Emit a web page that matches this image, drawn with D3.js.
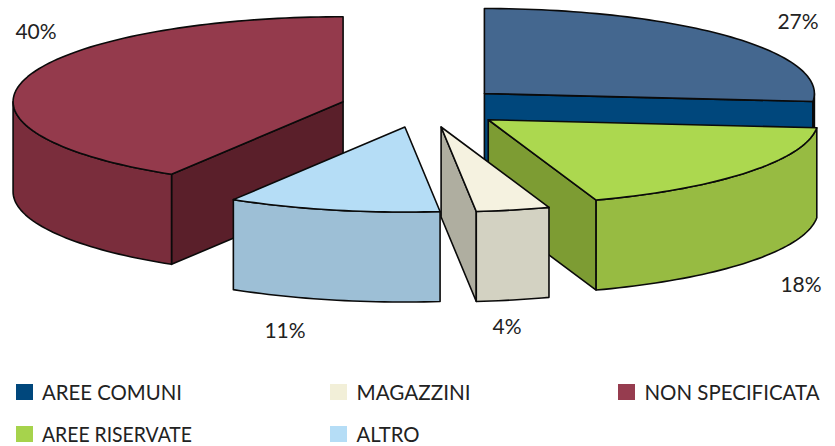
<!DOCTYPE html>
<html>
<head>
<meta charset="utf-8">
<script src="https://cdnjs.cloudflare.com/ajax/libs/d3/7.8.5/d3.min.js"></script>
<style>
html, body { margin: 0; padding: 0; background: #fff; }
svg { display: block; }
text { font-family: "Lato", sans-serif; fill: #222; }
</style>
</head>
<body>
<div id="chart"></div>
<script>
var categories = ["AREE COMUNI", "AREE RISERVATE", "MAGAZZINI", "ALTRO", "NON SPECIFICATA"];
// printed labels, they do not quite agree with the drawn angles
var percentLabels = ["27%", "18%", "4%", "11%", "40%"];
// slice sizes
var sliceShares = [26.5, 18.2, 3.6, 10.4, 41.3];

var topColors = ["#44678f", "#acd84f", "#f5f2e0", "#b5ddf6", "#943a4c"];
var wallColors = ["#00477c", "#97bb42", "#d3d2c2", "#9dbfd6", "#7a2d3c"];
var faceColors = ["#00477c", "#7d9c33", "#afaea0", "#9dbfd6", "#5a1f2a"];
var legendColors = ["#00477c", "#a6d34c", "#f2efd8", "#b5ddf6", "#963c4f"];

var width = 835, height = 446;
var cx = 423, cy = 107.2, rx = 330, ry = 85, depth = 90;
var explodeX = 83, explodeY = 20.3;
var labelAt = [[798, 28.5], [801, 292], [507, 334], [285, 337.5], [36, 39]];

var svg = d3.select("#chart").append("svg")
	.attr("width", width)
	.attr("height", height);

var pie = d3.pie().sort(null).value(function(d) { return d.share; });

var arcs = pie(categories.map(function(c, i) {
	return {name: c, share: sliceShares[i], index: i};
}));

function apex(d) {
	var mid = (d.startAngle + d.endAngle) / 2;
	return [cx + explodeX * Math.sin(mid), cy - explodeY * Math.cos(mid)];
}

function rim(d, a) {
	var p = apex(d);
	return [p[0] + rx * Math.sin(a), p[1] - ry * Math.cos(a)];
}

function sweep(a0, a1) {
	var n = Math.max(2, Math.ceil((a1 - a0) * 40));
	return d3.range(n + 1).map(function(k) { return a0 + (a1 - a0) * k / n; });
}

function down(p) { return [p[0], p[1] + depth]; }

var line = d3.line();

function drawPoly(g, pts, fill) {
	g.append("path")
		.attr("d", line(pts) + "Z")
		.attr("fill", fill)
		.attr("stroke", "#0a0a0a")
		.attr("stroke-width", 1.6)
		.attr("stroke-linejoin", "round");
}

//back slices first, so the nearer ones cover them
var order = arcs.slice().sort(function(a, b) {
	return d3.descending(
		Math.cos((a.startAngle + a.endAngle) / 2),
		Math.cos((b.startAngle + b.endAngle) / 2));
});

order.forEach(function(d) {
	var g = svg.append("g").attr("class", "slice");
	var i = d.data.index;
	var p = apex(d);

	// cut faces, only the ones turned to the viewer
	if (Math.sin(d.startAngle) < -0.01) {
		var s = rim(d, d.startAngle);
		drawPoly(g, [p, s, down(s), down(p)], faceColors[i]);
	}
	if (Math.sin(d.endAngle) > 0.01) {
		var e = rim(d, d.endAngle);
		drawPoly(g, [p, e, down(e), down(p)], faceColors[i]);
	}

	// outer wall
	var a0 = Math.max(d.startAngle, Math.PI / 2);
	var a1 = Math.min(d.endAngle, Math.PI * 1.5);
	if (a1 > a0) {
		var upper = sweep(a0, a1).map(function(a) { return rim(d, a); });
		var lower = upper.map(down).reverse();
		drawPoly(g, upper.concat(lower), wallColors[i]);
	}

	// top
	var top = sweep(d.startAngle, d.endAngle).map(function(a) { return rim(d, a); });
	drawPoly(g, [p].concat(top), topColors[i]);
});

svg.selectAll(".pct")
	.data(percentLabels)
	.enter().append("text")
	.attr("class", "pct")
	.attr("x", function(d, i) { return labelAt[i][0]; })
	.attr("y", function(d, i) { return labelAt[i][1]; })
	.attr("text-anchor", "middle")
	.attr("font-size", 21)
	.text(function(d) { return d; });

var legendX = [16, 330, 618];
var legendY = [384, 426];
// the original face is narrower than Lato, so squeeze to the measured widths
var legendTextWidth = [140, 150, 114, 63, 175];

var legend = svg.selectAll(".legend")
	.data(categories)
	.enter().append("g")
	.attr("class", "legend")
	.attr("transform", function(d, i) {
		return "translate(" + legendX[Math.floor(i / 2)] + "," + legendY[i % 2] + ")";
	});

legend.append("rect")
	.attr("width", 17)
	.attr("height", 16)
	.attr("fill", function(d, i) { return legendColors[i]; });

legend.append("text")
	.attr("x", function(d, i) { return i < 2 ? 26 : 26.5; })
	.attr("y", 15.5)
	.attr("font-size", 21.5)
	.attr("textLength", function(d, i) { return legendTextWidth[i]; })
	.attr("lengthAdjust", "spacingAndGlyphs")
	.text(function(d) { return d; });
</script>
</body>
</html>
